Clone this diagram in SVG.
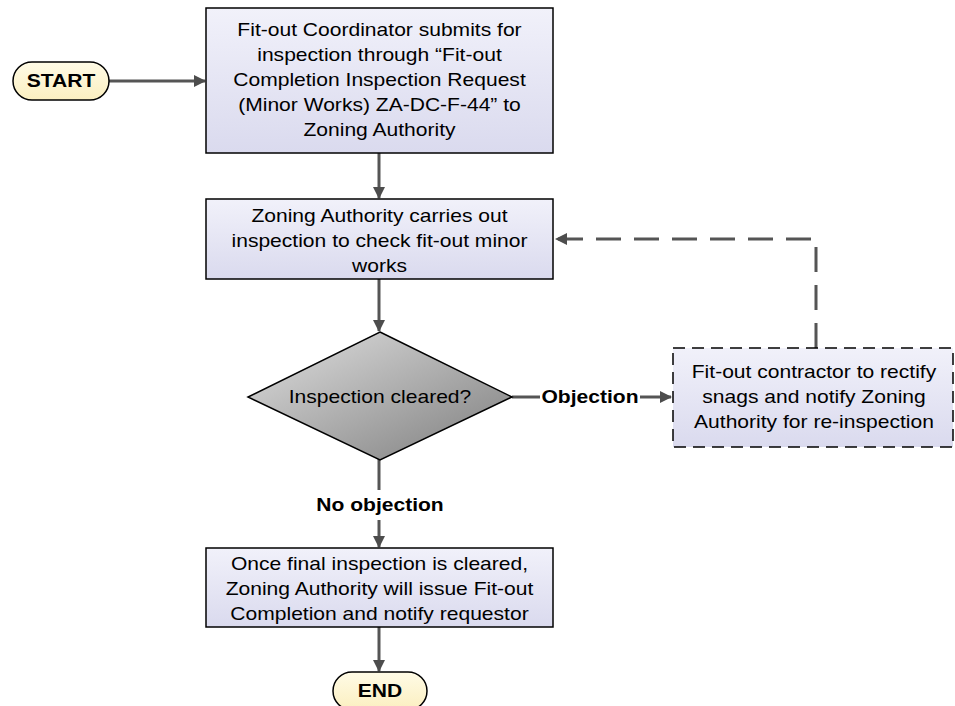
<svg xmlns="http://www.w3.org/2000/svg" width="955" height="706" viewBox="0 0 955 706">
<defs>
<linearGradient id="gBox" x1="0" y1="0" x2="0" y2="1"><stop offset="0" stop-color="#f1f1fa"/><stop offset="1" stop-color="#dadaee"/></linearGradient>
<linearGradient id="gTerm" x1="0" y1="0" x2="0" y2="1"><stop offset="0" stop-color="#fffbe6"/><stop offset="1" stop-color="#fbefc0"/></linearGradient>
<linearGradient id="gDia" x1="0" y1="0" x2="1" y2="1"><stop offset="0" stop-color="#e0e0e0"/><stop offset="1" stop-color="#7d7d7d"/></linearGradient>
<marker id="arr" markerWidth="12" markerHeight="12" refX="11" refY="6" orient="auto" markerUnits="userSpaceOnUse"><path d="M0,0 L12,6 L0,12 Z" fill="#4d4d4d"/></marker>
<style>
.box{fill:url(#gBox);stroke:#000;stroke-width:1.5}
.term{fill:url(#gTerm);stroke:#000;stroke-width:1.5}
.dia{fill:url(#gDia);stroke:#000;stroke-width:1.5}
.t{font-family:"Liberation Sans",Arial,sans-serif;font-size:18px;fill:#000;text-anchor:middle}
.b{font-weight:bold}
.c{fill:none;stroke:#555;stroke-width:3}
.d{stroke-dasharray:25,13}
</style>
</defs>
<g id="connectors">
<path class="c" d="M109,81 L205,81" marker-end="url(#arr)"/>
<path class="c" d="M379,153 L379,198" marker-end="url(#arr)"/>
<path class="c" d="M379,279 L379,331" marker-end="url(#arr)"/>
<path class="c" d="M512,397 L540,397"/>
<path class="c" d="M640,397 L671,397" marker-end="url(#arr)"/>
<path class="c" d="M379,458 L379,490"/>
<path class="c" d="M379,520 L379,547" marker-end="url(#arr)"/>
<path class="c" d="M379,627 L379,671" marker-end="url(#arr)"/>
<path class="c d" d="M816,348 L816,239 L556,239" marker-end="url(#arr)"/>
<text class="t b" x="590" y="403" transform="translate(590 0) scale(1.17 1) translate(-590 0)">Objection</text>
<text class="t b" x="380" y="511" transform="translate(380 0) scale(1.17 1) translate(-380 0)">No objection</text>
</g>
<g id="start">
<rect class="term" x="13" y="62" width="96" height="38" rx="19"/>
<text class="t b" x="61" y="87" transform="translate(61 0) scale(1.17 1) translate(-61 0)">START</text>
</g>
<g id="submit">
<rect class="box" x="206" y="8" width="347" height="145"/>
<g transform="translate(379.5 0) scale(1.17 1) translate(-379.5 0)">
<text class="t" x="379.5" y="36">Fit-out Coordinator submits for</text>
<text class="t" x="379.5" y="61">inspection through “Fit-out</text>
<text class="t" x="379.5" y="86">Completion Inspection Request</text>
<text class="t" x="379.5" y="111">(Minor Works) ZA-DC-F-44” to</text>
<text class="t" x="379.5" y="136">Zoning Authority</text>
</g>
</g>
<g id="inspect">
<rect class="box" x="206" y="199" width="347" height="80"/>
<g transform="translate(379.5 0) scale(1.17 1) translate(-379.5 0)">
<text class="t" x="379.5" y="222">Zoning Authority carries out</text>
<text class="t" x="379.5" y="247">inspection to check fit-out minor</text>
<text class="t" x="379.5" y="272">works</text>
</g>
</g>
<g id="decision">
<polygon class="dia" points="380,332 512,397 380,460 248,397"/>
<text class="t" x="380" y="403" transform="translate(380 0) scale(1.17 1) translate(-380 0)">Inspection cleared?</text>
</g>
<g id="rectify">
<rect class="box" x="673" y="348" width="280" height="99" stroke-dasharray="12,7"/>
<g transform="translate(814 0) scale(1.17 1) translate(-814 0)">
<text class="t" x="814" y="378">Fit-out contractor to rectify</text>
<text class="t" x="814" y="403">snags and notify Zoning</text>
<text class="t" x="814" y="428">Authority for re-inspection</text>
</g>
</g>
<g id="complete">
<rect class="box" x="206" y="548" width="347" height="79"/>
<g transform="translate(379.5 0) scale(1.17 1) translate(-379.5 0)">
<text class="t" x="379.5" y="570">Once final inspection is cleared,</text>
<text class="t" x="379.5" y="595">Zoning Authority will issue Fit-out</text>
<text class="t" x="379.5" y="620">Completion and notify requestor</text>
</g>
</g>
<g id="end">
<rect class="term" x="333" y="672" width="94" height="38" rx="19"/>
<text class="t b" x="380" y="697" transform="translate(380 0) scale(1.17 1) translate(-380 0)">END</text>
</g>
</svg>
